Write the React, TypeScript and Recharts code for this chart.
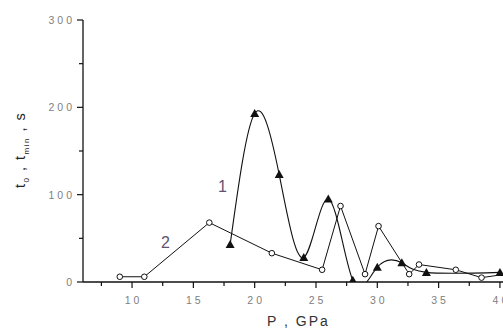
import React from "react";
import { Line, LineChart, ReferenceDot, XAxis, YAxis } from "recharts";

// values (P in GPa, time in s)
const curve1P = [18, 20, 22, 24, 26, 28, 30, 32, 34, 40];
const curve1T = [43, 193, 123, 28, 95, 2, 17, 22, 11, 11];
const curve2P = [9, 11, 16.3, 21.4, 25.5, 27, 29, 30.1, 32.6, 33.4, 36.4, 38.5, 41.5];
const curve2T = [6, 6, 68, 33, 14, 87, 9, 64, 9, 20, 14, 5, 11];

const xTicks = [7.5, 10, 12.5, 15, 17.5, 20, 22.5, 25, 27.5, 30, 32.5, 35, 37.5, 40];
const yTicks = [0, 50, 100, 150, 200, 250, 300];

const curve1 = curve1P.map((p, i) => ({ p, t: curve1T[i] }));
const curve2 = curve2P.map((p, i) => ({ p, t: curve2T[i] }));

const FONT = "'Liberation Sans', Arial, sans-serif";
const INK = "#111";

function XTick({ x, y, payload }: any) {
  const major = payload.value % 5 === 0;
  return (
    <g>
      <line x1={x} x2={x} y1={y} y2={y + (major ? 6 : 4)} stroke={INK} strokeWidth={1.2} />
      {major && (
        <text x={x + 1.5} y={y + 21.5} textAnchor="middle" fontSize={10.5} letterSpacing={3}
          fill="#808080" fontFamily={FONT}>
          {payload.value}
        </text>
      )}
    </g>
  );
}

function YTick({ x, y, payload }: any) {
  const major = payload.value % 100 === 0;
  return (
    <g>
      <line x1={x - (major ? 6 : 4)} x2={x} y1={y} y2={y} stroke={INK} strokeWidth={1.2} />
      {major && (
        <text x={x - 8} y={y + 4} textAnchor="end" fontSize={10.5} letterSpacing={3}
          fill="#808080" fontFamily={FONT}>
          {payload.value}
        </text>
      )}
    </g>
  );
}

function Triangle({ cx, cy }: any) {
  if (cx == null || cy == null) return null;
  return <polygon points={`${cx},${cy - 4.5} ${cx - 4.5},${cy + 3.5} ${cx + 4.5},${cy + 3.5}`} fill={INK} />;
}

function Ring({ cx, cy }: any) {
  if (cx == null || cy == null) return null;
  return <circle cx={cx} cy={cy} r={2.8} fill="#fff" stroke={INK} strokeWidth={1} />;
}

function YTitle() {
  return (
    <text transform="rotate(-90)" x={-188} y={25} fontSize={14.5} letterSpacing={1.5} fill="#222" fontFamily={FONT}>
      t<tspan fontSize={8} dy={4}>0</tspan>
      <tspan dy={-4}> , t</tspan>
      <tspan fontSize={8} dy={4}>min</tspan>
      <tspan dy={-4}> , s</tspan>
    </text>
  );
}

function XTitle() {
  return (
    <text x={267} y={326} fontSize={14} letterSpacing={2} fill="#333" fontFamily={FONT}>
      P , GPa
    </text>
  );
}

export default function App() {
  return (
    <div style={{ position: "absolute", left: 0, top: 0, background: "#fff" }}>
      <LineChart width={503} height={329} margin={{ top: 20, right: 0, left: 0, bottom: 0 }}>
        <XAxis
          type="number"
          dataKey="p"
          domain={[6, 40.25]}
          ticks={xTicks}
          interval={0}
          allowDataOverflow
          height={47}
          tickSize={0}
          tickMargin={0}
          tickLine={false}
          tick={<XTick />}
          axisLine={{ stroke: INK, strokeWidth: 1.3 }}
          label={<XTitle />}
        />
        <YAxis
          type="number"
          domain={[0, 300]}
          ticks={yTicks}
          interval={0}
          allowDataOverflow
          width={83}
          tickSize={0}
          tickMargin={0}
          tickLine={false}
          tick={<YTick />}
          axisLine={{ stroke: INK, strokeWidth: 1.3 }}
          label={<YTitle />}
        />
        <Line
          data={curve2}
          dataKey="t"
          type="linear"
          stroke={INK}
          strokeWidth={1}
          dot={<Ring />}
          isAnimationActive={false}
        />
        <Line
          data={curve1}
          dataKey="t"
          type="natural"
          stroke={INK}
          strokeWidth={1.1}
          dot={<Triangle />}
          isAnimationActive={false}
        />
        <ReferenceDot x={17.37} y={109} r={1} fill="none" stroke="none"
          label={{ value: "1", position: "center", fontSize: 16, fill: "#5f5272", fontFamily: FONT }} />
        <ReferenceDot x={12.72} y={46} r={1} fill="none" stroke="none"
          label={{ value: "2", position: "center", fontSize: 16, fill: "#5f5272", fontFamily: FONT }} />
      </LineChart>
    </div>
  );
}
